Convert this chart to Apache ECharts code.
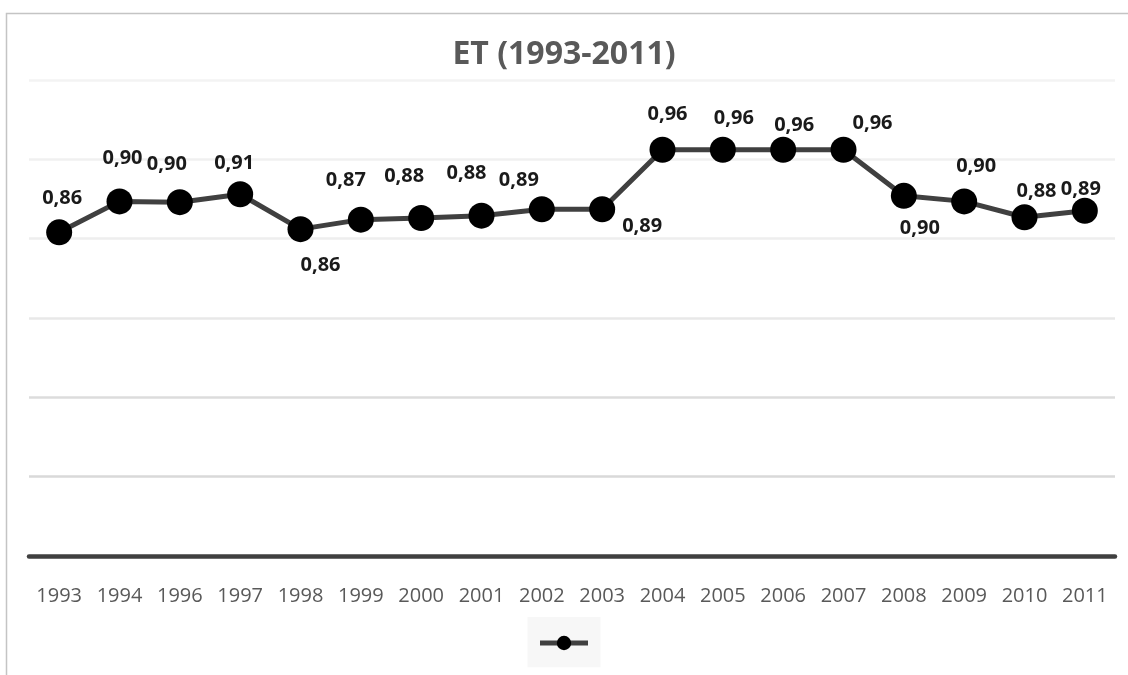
<!DOCTYPE html>
<html>
<head>
<meta charset="utf-8">
<script src="https://cdn.jsdelivr.net/npm/echarts@6/dist/echarts.min.js"></script>
<style>
html,body{margin:0;padding:0;background:#fff;}
#chart{width:1128px;height:675px;}
</style>
</head>
<body>
<div id="chart"></div>
<script>
const titleText = 'ET (1993-2011)';
const years = ['1993','1994','1996','1997','1998','1999','2000','2001','2002','2003','2004','2005','2006','2007','2008','2009','2010','2011'];
const etValues = [0.858,0.897,0.896,0.906,0.862,0.874,0.876,0.879,0.887,0.887,0.962,0.962,0.962,0.962,0.904,0.897,0.877,0.8852];
// label placement (style): [dx, dy] from the point centre
const labelShift = [[3,-34],[3,-43],[-13,-38],[-6,-31],[20,36],[-15,-39],[-17,-42],[-15,-42],[-23,-29],[40,17],[5,-36],[11,-32],[11,-25],[29,-27],[16,32],[12,-35],[12,-26],[-4,-21]];

const chart = echarts.init(document.getElementById('chart'), null, {renderer:'canvas'});
chart.setOption({
  backgroundColor:'#ffffff',
  animation:false,
  title:{
    text:titleText, left:'center', top:39, padding:0,
    textStyle:{fontFamily:'Open Sans', fontSize:32, fontWeight:'bold', color:'#595959'}
  },
  legend:{
    show:true, left:'center', top:617, padding:[17,10,17,10],
    itemWidth:48, itemHeight:18, itemGap:0,
    backgroundColor:'#f7f7f7',
    formatter:()=> '',
    textStyle:{fontSize:1},
    lineStyle:{width:5}
  },
  grid:{left:29, right:13, top:80, bottom:119, containLabel:false},
  xAxis:{
    type:'category', data:years, boundaryGap:true,
    axisLine:{show:true, lineStyle:{color:'#404040', width:4.5}},
    axisTick:{show:false},
    axisLabel:{margin:30, fontFamily:'Open Sans', fontSize:20, color:'#595959', interval:0}
  },
  yAxis:{
    type:'value', min:0.45, max:1.05, interval:0.1,
    axisLine:{show:false}, axisTick:{show:false}, axisLabel:{show:false},
    splitLine:{show:true, lineStyle:{width:2.5, color:['#ffffff','#d9d9d9','#dcdcdc','#e8e8e8','#eeeeee','#f0f0f0','#f3f3f3']}}
  },
  graphic:[{
    type:'polyline', silent:true,
    shape:{points:[[6.5,675],[6.5,13.5],[1128,13.5]]},
    style:{stroke:'#c4c4c4', lineWidth:1.5, fill:null}
  }],
  series:[{
    name:'ET', type:'line', data:etValues,
    symbol:'circle', symbolSize:26,
    lineStyle:{color:'#404040', width:5},
    itemStyle:{color:'#000000', borderWidth:0},
    label:{
      show:true, position:'inside', align:'center', verticalAlign:'middle',
      fontFamily:'Open Sans', fontSize:20, fontWeight:'bold', color:'#1a1a1a',
      formatter:p=>p.value.toFixed(2).replace('.',',')
    },
    labelLayout:p=>({dx:labelShift[p.dataIndex][0], dy:labelShift[p.dataIndex][1], hideOverlap:false}),
    z:3
  }]
});
</script>
</body>
</html>
